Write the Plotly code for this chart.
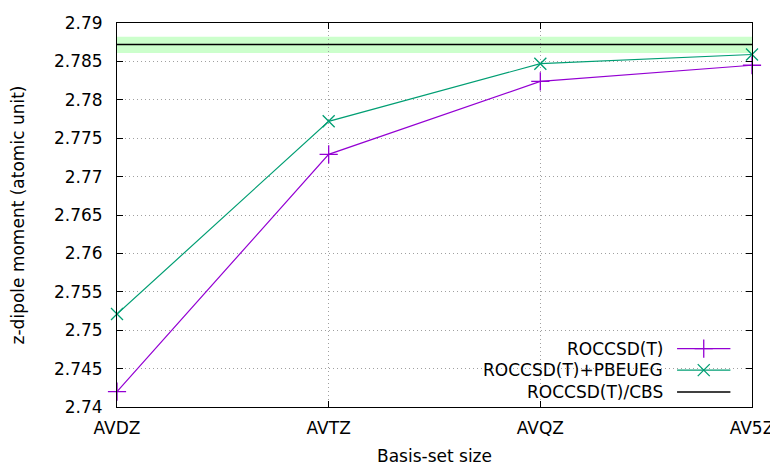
import plotly.graph_objects as go

basis = ["AVDZ", "AVTZ", "AVQZ", "AV5Z"]
roccsdt = [2.7420, 2.7729, 2.7824, 2.7845]
roccsdt_pbeueg = [2.7521, 2.7772, 2.7847, 2.7859]
cbs = 2.7872
cbs_lo, cbs_hi = 2.7861, 2.7882

purple = "#9400D3"
green = "#009E73"
font = "DejaVu Sans"
fs = 17

xs = list(range(len(basis)))

fig = go.Figure()

# CBS band + line
fig.add_shape(type="rect", xref="x", yref="y", x0=0, x1=3, y0=cbs_lo, y1=cbs_hi,
              fillcolor="#ccffcc", line_width=0, layer="below")
fig.add_trace(go.Scatter(x=[0, 3], y=[cbs, cbs], mode="lines",
                         line=dict(color="black", width=1.3), showlegend=False))

fig.add_trace(go.Scatter(x=xs, y=roccsdt, mode="lines+markers",
                         line=dict(color=purple, width=1.2),
                         marker=dict(symbol="cross-thin", size=13,
                                     line=dict(color=purple, width=1.3)),
                         showlegend=False, cliponaxis=False))
fig.add_trace(go.Scatter(x=xs, y=roccsdt_pbeueg, mode="lines+markers",
                         line=dict(color=green, width=1.2),
                         marker=dict(symbol="x-thin", size=12,
                                     line=dict(color=green, width=1.3)),
                         showlegend=False, cliponaxis=False))

# gnuplot-style key: text on the left, sample on the right
key = [("ROCCSD(T)", purple, "cross-thin", 13),
       ("ROCCSD(T)+PBEUEG", green, "x-thin", 12),
       ("ROCCSD(T)/CBS", "black", None, 0)]
key_y = [0.152, 0.096, 0.039]
for (label, col, sym, sz), ky in zip(key, key_y):
    fig.add_trace(go.Scatter(x=[0.882, 0.966], y=[ky, ky], xaxis="x2", yaxis="y2",
                             mode="lines", line=dict(color=col, width=1.3),
                             showlegend=False, hoverinfo="skip"))
    if sym:
        fig.add_trace(go.Scatter(x=[0.924], y=[ky], xaxis="x2", yaxis="y2",
                                 mode="markers",
                                 marker=dict(symbol=sym, size=sz, line=dict(color=col, width=1.3)),
                                 showlegend=False, hoverinfo="skip"))
    fig.add_annotation(x=0.863, y=ky, xref="x2", yref="y2", text=label, showarrow=False,
                       xanchor="right", yanchor="middle", font=dict(size=fs, color="black"))

axis_common = dict(showline=True, linecolor="black", linewidth=1, mirror="ticks",
                   ticks="inside", ticklen=6, tickcolor="black",
                   showgrid=True, gridcolor="#a0a0a0", griddash="1px,3px", gridwidth=1,
                   zeroline=False, tickfont=dict(size=fs, color="black"),
                   ticklabeloverflow="allow", automargin=False)

# page body has an 8px default margin, so the figure is 8px smaller on each side
fig.update_layout(
    width=770, height=463,
    margin=dict(l=109, r=26, t=15, b=64),
    plot_bgcolor="white", paper_bgcolor="white",
    font=dict(family=font, size=fs, color="black"),
    xaxis=dict(axis_common, range=[0, 3], tickvals=xs, ticktext=basis,
               ticklabelstandoff=6,
               title=dict(text="Basis-set size", font=dict(size=fs), standoff=12)),
    yaxis=dict(axis_common, range=[2.74, 2.79], dtick=0.005,
               ticklabelstandoff=10,
               title=dict(text="z-dipole moment (atomic unit)", font=dict(size=fs), standoff=24)),
    xaxis2=dict(overlaying="x", range=[0, 1], visible=False),
    yaxis2=dict(overlaying="y", range=[0, 1], visible=False),
    showlegend=False,
)

fig.write_html("out.html")
